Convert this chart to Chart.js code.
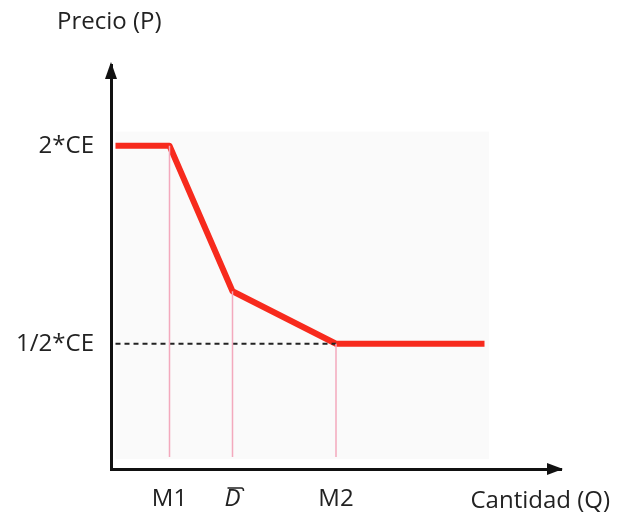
<!DOCTYPE html>
<html>
<head>
<meta charset="utf-8">
<script src="https://cdn.jsdelivr.net/npm/chart.js@4"></script>
<style>
  html, body { margin: 0; padding: 0; background: #fff; }
  #wrap { width: 618px; height: 520px; }
</style>
</head>
<body>
<div id="wrap"><canvas id="demand"></canvas></div>
<script>
// quantity / price breakpoints of the demand curve (scale 0..100)
const curveQ = [1, 13, 27, 50, 83];
const curveP = [80, 80, 44, 31, 31];

// reference lines
const dashQ = [1, 50];
const dashP = [31, 31];
const dropQ = [13, 27, 50];
const dropP = [80, 44, 31];
const dropFloor = 3;

// tick labels
const qTicks = [13, 27, 50];
const qLabels = ['M1', 'D', 'M2'];
const barTick = 27; // the D tick gets an overline
const pTicks = [31, 80];
const pLabels = ['1/2*CE', '2*CE'];

const yTitle = 'Precio (P)';
const xTitle = 'Cantidad (Q)';

const FONT = '"Open Sans", Lato, sans-serif';
const FSIZE = 24;

const pts = (xs, ys) => xs.map((x, i) => ({ x, y: ys[i] }));

const datasets = [];
// pink drop lines from the curve down to the axis
dropQ.forEach((q, i) => {
    datasets.push({
        data: [{ x: q, y: dropP[i] }, { x: q, y: dropFloor }],
        borderColor: '#f3a9bd',
        borderWidth: 1.5,
        pointRadius: 0
    });
});
// dashed level at 1/2*CE
datasets.push({
    data: pts(dashQ, dashP),
    borderColor: '#222',
    borderWidth: 2,
    borderDash: [5, 4],
    pointRadius: 0
});
// the red demand curve
datasets.push({
    data: pts(curveQ, curveP),
    borderColor: '#f72a1d',
    borderWidth: 6,
    borderJoinStyle: 'round',
    pointRadius: 0
});

// arrows, titles, overline and the faint paper panel
const decor = {
    id: 'decor',
    beforeDatasetsDraw(chart) {
        const { ctx, scales: { x, y } } = chart;
        ctx.save();
        ctx.fillStyle = '#fafafa';
        const l = x.getPixelForValue(1), r = x.getPixelForValue(84);
        const t = y.getPixelForValue(83.5), b = y.getPixelForValue(2.5);
        ctx.fillRect(l, t, r - l, b - t);
        ctx.restore();
    },
    afterDraw(chart) {
        const { ctx, chartArea: a, scales: { x } } = chart;
        ctx.save();
        ctx.fillStyle = '#111';
        // up arrow
        ctx.beginPath();
        ctx.moveTo(a.left, a.top - 3);
        ctx.lineTo(a.left - 6, a.top + 14);
        ctx.lineTo(a.left + 6, a.top + 14);
        ctx.closePath();
        ctx.fill();
        // right arrow
        ctx.beginPath();
        ctx.moveTo(a.right + 2, a.bottom);
        ctx.lineTo(a.right - 14, a.bottom - 6);
        ctx.lineTo(a.right - 14, a.bottom + 6);
        ctx.closePath();
        ctx.fill();
        // overline on D
        const dx = x.getPixelForValue(barTick);
        ctx.strokeStyle = '#222';
        ctx.lineWidth = 1.5;
        ctx.beginPath();
        ctx.moveTo(dx - 5, a.bottom + 19);
        ctx.lineTo(dx + 9, a.bottom + 19);
        ctx.quadraticCurveTo(dx + 11, a.bottom + 19, dx + 11, a.bottom + 22);
        ctx.stroke();
        // axis titles
        ctx.fillStyle = '#222';
        ctx.font = FSIZE + 'px ' + FONT;
        ctx.textBaseline = 'middle';
        ctx.textAlign = 'left';
        ctx.fillText(yTitle, 57, 22);
        ctx.textAlign = 'right';
        ctx.fillText(xTitle, 610, 501);
        ctx.restore();
    }
};

new Chart(document.getElementById('demand'), {
    type: 'line',
    data: { datasets },
    options: {
        responsive: true,
        maintainAspectRatio: false,
        animation: false,
        events: [],
        layout: { padding: { top: 65, right: 57, left: 0, bottom: 0 } },
        plugins: { legend: { display: false }, tooltip: { enabled: false } },
        scales: {
            x: {
                type: 'linear',
                min: 0,
                max: 100,
                grid: { display: false, drawTicks: false },
                border: { display: true, color: '#111', width: 3 },
                afterBuildTicks: s => { s.ticks = qTicks.map(v => ({ value: v })); },
                afterFit: s => { s.height = 51; },
                ticks: {
                    padding: 16,
                    color: '#222',
                    font: c => (c.tick && c.tick.value === barTick)
                        ? { family: FONT, size: FSIZE, style: 'italic' }
                        : { family: FONT, size: FSIZE },
                    callback: v => qLabels[qTicks.indexOf(v)]
                }
            },
            y: {
                type: 'linear',
                min: 0,
                max: 100,
                grid: { display: false, drawTicks: false },
                border: { display: true, color: '#111', width: 3 },
                afterBuildTicks: s => { s.ticks = pTicks.map(v => ({ value: v })); },
                afterFit: s => { s.width = 111; },
                ticks: {
                    padding: 17,
                    color: '#222',
                    font: { family: FONT, size: FSIZE },
                    callback: v => pLabels[pTicks.indexOf(v)]
                }
            }
        }
    },
    plugins: [decor]
});
</script>
</body>
</html>
